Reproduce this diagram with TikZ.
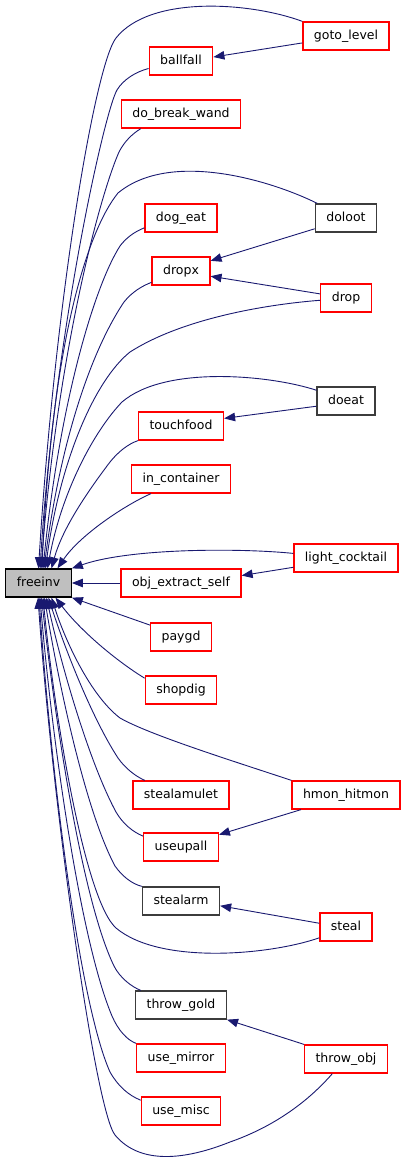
\documentclass[tikz,border=0pt]{standalone}
\usepackage{fontspec}
\setmainfont{DejaVu Sans}
\usepackage{xcolor}
\definecolor{gvred}{RGB}{255,0,0}
\definecolor{gvblue}{RGB}{25,25,112}
\definecolor{gvgrey}{RGB}{191,191,191}
\definecolor{gvdark}{RGB}{60,60,60}
\usepackage{tikz}
\usetikzlibrary{arrows.meta}
\tikzset{
  fn/.style={draw=gvred,line width=1.3pt,fill=white,minimum height=28pt,inner xsep=11pt,inner ysep=0pt,
    text height=9.5pt,text depth=3pt,font=\fontsize{12.5}{14}\selectfont},
  fnk/.style={fn,draw=gvdark},
  call/.style={draw=gvblue,line width=0.9pt,-{Triangle[length=11pt,width=8.5pt]}}
}

\begin{document}
\begin{tikzpicture}[x=1pt,y=-1pt]
\useasboundingbox (0,0) rectangle (408,1165);
% ---- FUNKCJE: kolumna srodkowa ----
\node[fn]  (ballfall)         at (181,61)   {ballfall};
\node[fn]  (do_break_wand)    at (181,114)  {do\_break\_wand};
\node[fn]  (dog_eat)          at (181,218)  {dog\_eat};
\node[fn]  (dropx)            at (181,271)  {dropx};
\node[fn]  (touchfood)        at (181,426)  {touchfood};
\node[fn]  (in_container)     at (181,479)  {in\_container};
\node[fn]  (obj_extract_self) at (181,583)  {obj\_extract\_self};
\node[fn]  (paygd)            at (181,637)  {paygd};
\node[fn]  (shopdig)          at (181,690)  {shopdig};
\node[fn]  (stealamulet)      at (181,795)  {stealamulet};
\node[fn]  (useupall)         at (181,847)  {useupall};
\node[fnk] (stealarm)         at (181,901)  {stealarm};
\node[fnk] (throw_gold)       at (181,1005) {throw\_gold};
\node[fn]  (use_mirror)       at (181,1058) {use\_mirror};
\node[fn]  (use_misc)         at (181,1111) {use\_misc};
% ---- kolumna prawa ----
\node[fn]  (goto_level)     at (346,36)   {goto\_level};
\node[fnk] (doloot)         at (346,218)  {doloot};
\node[fn]  (drop)           at (346,298)  {drop};
\node[fnk] (doeat)          at (346,401)  {doeat};
\node[fn]  (light_cocktail) at (346,558)  {light\_cocktail};
\node[fn]  (hmon_hitmon)    at (346,795)  {hmon\_hitmon};
\node[fn]  (steal)          at (346,927)  {steal};
\node[fn]  (throw_obj)      at (346,1059) {throw\_obj};
% ---- freeinv ----
\node[fn,draw=black,fill=gvgrey] (freeinv) at (38.5,583) {freeinv};
% ---- wywolania z gory ----
\draw[call] (goto_level.north west) .. controls (250,2) and (150,-5) .. (116,38) .. controls (95,65) and (55,300) .. (freeinv.north);
\draw[call] (ballfall.193) .. controls (135,72) and (123,80) .. (117,90) .. controls (105,110) and (55,330) .. ([xshift=1.5pt]freeinv.north);
\draw[call] (do_break_wand.200) .. controls (132,134) and (124,142) .. (119,152) .. controls (100,195) and (58,350) .. ([xshift=2.5pt]freeinv.north);
\draw[call] (doloot.153) .. controls (270,180) and (170,150) .. (118,193) .. controls (88,230) and (52,340) .. ([xshift=3.5pt]freeinv.north);
\draw[call] (dog_eat.195) .. controls (134,232) and (126,238) .. (120,246) .. controls (95,285) and (60,400) .. ([xshift=4.5pt]freeinv.north);
\draw[call] (dropx.201) .. controls (142,286) and (132,292) .. (124,302) .. controls (95,345) and (62,430) .. ([xshift=5.5pt]freeinv.north);
\draw[call] (drop.185) .. controls (260,305) and (180,320) .. (130,352) .. controls (95,380) and (60,460) .. ([xshift=7pt]freeinv.north);
\draw[call] (doeat.160) .. controls (270,375) and (165,365) .. (122,402) .. controls (95,430) and (62,490) .. ([xshift=9pt]freeinv.north);
\draw[call] (touchfood.south west) .. controls (128,444) and (118,452) .. (110,462) .. controls (85,495) and (62,530) .. ([xshift=13pt]freeinv.north);
\draw[call] (in_container.206) .. controls (125,505) and (80,535) .. ([xshift=19pt]freeinv.north);
\draw[call] (light_cocktail.175) .. controls (240,548) and (130,548) .. (freeinv.north east);
\draw[call] (obj_extract_self) -- (freeinv);
% ---- wywolania posrednie ----
\draw[call] (goto_level.189) -- (ballfall.7);
\draw[call] (doloot.199) -- (dropx.19);
\draw[call] (drop.171) -- (dropx.350);
\draw[call] (doeat.190) -- (touchfood.10);
\draw[call] (light_cocktail.190) -- (obj_extract_self.7);
\draw[call] (hmon_hitmon.198) -- (useupall.18);
\draw[call] (steal.172) -- (stealarm.353);
\draw[call] (throw_obj.north west) -- (throw_gold.south east);
% ---- wywolania z dolu ----
\draw[call] (paygd.159) -- (freeinv.south east);
\draw[call] (shopdig.162) .. controls (115,660) and (80,630) .. ([xshift=17pt]freeinv.south);
\draw[call] (hmon_hitmon.north west) .. controls (230,760) and (150,735) .. (120,718) .. controls (90,695) and (65,640) .. ([xshift=13pt]freeinv.south);
\draw[call] (stealamulet.158) .. controls (135,776) and (125,768) .. (118,758) .. controls (90,715) and (62,640) .. ([xshift=10pt]freeinv.south);
\draw[call] (useupall.164) .. controls (133,832) and (123,824) .. (116,812) .. controls (88,760) and (60,660) .. ([xshift=8pt]freeinv.south);
\draw[call] (stealarm.north west) .. controls (132,884) and (122,876) .. (115,866) .. controls (85,810) and (58,680) .. ([xshift=6pt]freeinv.south);
\draw[call] (steal.202) .. controls (270,955) and (160,965) .. (116,928) .. controls (85,900) and (55,720) .. ([xshift=4.5pt]freeinv.south);
\draw[call] (throw_gold.160) .. controls (132,987) and (120,978) .. (114,966) .. controls (82,900) and (55,720) .. ([xshift=3pt]freeinv.south);
\draw[call] (use_mirror.north west) .. controls (127,1040) and (118,1030) .. (112,1016) .. controls (80,940) and (52,740) .. ([xshift=1.5pt]freeinv.south);
\draw[call] (use_misc.165) .. controls (128,1095) and (118,1086) .. (110,1072) .. controls (78,1000) and (50,760) .. ([xshift=0.5pt]freeinv.south);
\draw[call] (throw_obj.227) .. controls (305,1105) and (270,1128) .. (230,1142) .. controls (185,1160) and (140,1165) .. (115,1135) .. controls (95,1110) and (52,800) .. ([xshift=-0.5pt]freeinv.south);
\end{tikzpicture}
\end{document}
